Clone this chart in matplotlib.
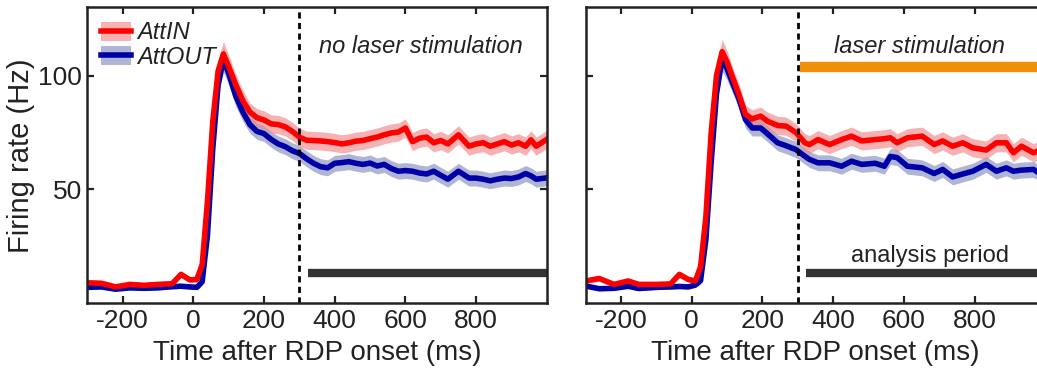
import matplotlib
matplotlib.use("Agg")
import matplotlib.pyplot as plt
from matplotlib.patches import Patch
from matplotlib.lines import Line2D

plt.rcParams['font.family'] = ['Liberation Sans', 'DejaVu Sans']
plt.rcParams['axes.unicode_minus'] = False

# ---- data (ms, Hz) ----
t_left = [-300, -260, -220, -180, -140, -100, -60, -35, -10, 10, 25, 40, 55, 70, 85, 100,
          120, 140, 160, 180, 200, 220, 240, 260, 280, 300, 320, 340, 360, 380, 400, 420,
          440, 460, 480, 500, 520, 540, 560, 580, 600, 620, 640, 660, 680, 700, 720, 750,
          780, 800, 820, 840, 860, 880, 900, 920, 940, 955, 970, 1000]
attin_left = [9.0, 8.8, 7.2, 8.3, 7.9, 8.3, 8.6, 12.7, 10.3, 10.5, 17, 45, 80, 102, 109.5, 104,
              96, 89, 84, 81.5, 80.5, 78.8, 78.5, 77.5, 75.5, 73, 71.6, 71.5, 71.3, 71, 70.6, 70,
              70.5, 71.2, 71.5, 72.3, 73, 74, 74.8, 75.2, 77, 71, 72.5, 73, 70.5, 71.5, 70, 74,
              69, 70, 70.5, 69, 70, 71, 69.5, 70.5, 69, 71.8, 69, 72]
attout_left = [7.0, 7.2, 6.2, 6.8, 6.6, 6.8, 7.3, 7.5, 7.2, 7.0, 9.5, 30, 68, 96, 107, 101,
               91, 84, 78.5, 75.5, 74.5, 72, 70, 68.8, 67, 65.8, 63.5, 61.5, 60, 59.5, 61.5, 61.8,
               62.2, 61.5, 61, 61.6, 60.3, 61, 59.2, 58, 58.3, 58, 57.2, 56.8, 58, 56.2, 54.5, 58,
               55, 55, 54.5, 53.8, 54.5, 55, 54.8, 55.5, 57, 56, 54.5, 55.1]
sem_in_left = [1.2, 1.2, 1.2, 1.2, 1.2, 1.2, 1.2, 1.5, 1.2, 1.2, 2, 3, 4, 5, 5.5, 5,
               4.5, 4.5, 4, 4, 4, 4, 4, 4, 4, 4, 4, 4, 4, 4, 4, 4,
               4, 4, 4, 4, 4, 4, 4, 4, 4, 4, 4, 4, 4, 4, 4, 4,
               4, 4, 4, 4, 4, 4, 4, 4, 4, 4, 4, 4]
sem_out_left = [1.0, 1.0, 1.0, 1.0, 1.0, 1.0, 1.0, 1.0, 1.0, 1.0, 1.5, 3, 4, 5, 5.5, 5,
                4.5, 4, 3.8, 3.5, 3.5, 3.5, 3.5, 3.5, 3.5, 3.5, 3.5, 3.5, 3.5, 3.5, 3.5, 3.5,
                3.5, 3.5, 3.5, 3.5, 3.5, 3.5, 3.5, 3.5, 3.5, 3.5, 3.5, 3.5, 3.5, 3.5, 3.5, 3.5,
                3.5, 3.5, 3.5, 3.5, 3.5, 3.5, 3.5, 3.5, 3.5, 3.5, 3.5, 3.5]

t_right = [-300, -262, -220, -180, -150, -100, -60, -35, -10, 10, 25, 40, 55, 70, 86, 100,
           115, 133, 152, 171, 195, 214, 243, 267, 295, 320, 333, 357, 390, 424, 452, 481,
           519, 545, 562, 581, 610, 652, 686, 710, 738, 767, 795, 833, 862, 890, 910, 933,
           967, 1000]
attin_right = [9.8, 10.9, 8.3, 9.8, 8.3, 8.3, 8.5, 12.7, 10.5, 9.8, 16, 38, 75, 100, 110.5, 106,
               99.5, 92, 83, 81, 82.2, 80, 78.1, 77.8, 75, 70.5, 69.7, 71.9, 69.7, 71.9, 73.4, 71.3,
               71.9, 72.3, 72.7, 70.5, 72.7, 73.4, 69.7, 71.3, 69, 70.5, 68.3, 67.3, 70.5, 70.5, 66.1, 69,
               66.1, 68.3]
attout_right = [7.6, 6.4, 6.6, 7.5, 6.5, 7.0, 7.2, 7.4, 7.2, 8.0, 10, 28, 62, 92, 107.5, 103,
                97, 90, 80.7, 77, 77, 74.5, 70.5, 69.2, 67.5, 64.6, 63.2, 61.7, 61.7, 60.2, 62.4, 61,
                61.5, 60.2, 64.5, 64, 60.2, 59.5, 57, 58.8, 55.5, 56.8, 58, 61, 58, 59.5, 58, 58.5,
                58.8, 55.5]
sem_in_right = [1.2, 1.2, 1.2, 1.2, 1.2, 1.2, 1.2, 1.5, 1.2, 1.2, 2, 3, 4, 5, 5.5, 5,
                4.5, 4.5, 4, 4, 4, 4, 4, 4, 4, 4, 4, 4, 4, 4, 4, 4,
                4, 4, 4, 4, 4, 4, 4, 4, 4, 4, 4, 4, 4, 4, 4, 4,
                4, 4]
sem_out_right = [1.0, 1.0, 1.0, 1.0, 1.0, 1.0, 1.0, 1.0, 1.0, 1.0, 1.5, 3, 4, 5, 5.5, 5,
                 4.5, 4, 3.8, 3.5, 3.5, 3.5, 3.5, 3.5, 3.5, 3.5, 3.5, 3.5, 3.5, 3.5, 3.5, 3.5,
                 3.5, 3.5, 3.5, 3.5, 3.5, 3.5, 3.5, 3.5, 3.5, 3.5, 3.5, 3.5, 3.5, 3.5, 3.5, 3.5,
                 3.5, 3.5]

x_ticks = [-200, 0, 200, 400, 600, 800]
y_ticks = [50, 100]
stim_onset = 300
analysis_period = (323, 1000)
laser_period = (305, 1000)

RED, RED_BAND = '#ff0000', '#f08080'
BLUE, BLUE_BAND = '#0000a8', '#7078b0'
INK = '#222222'


def draw_panel(ax, t, a_in, s_in, a_out, s_out):
    ax.fill_between(t, [m - s for m, s in zip(a_out, s_out)], [m + s for m, s in zip(a_out, s_out)],
                    color=BLUE_BAND, alpha=0.55, lw=0)
    ax.plot(t, a_out, color=BLUE, lw=4)
    ax.fill_between(t, [m - s for m, s in zip(a_in, s_in)], [m + s for m, s in zip(a_in, s_in)],
                    color=RED_BAND, alpha=0.6, lw=0)
    ax.plot(t, a_in, color=RED, lw=4)
    ax.axvline(stim_onset, color='black', lw=2, linestyle=(0, (2.2, 1.6)))
    ax.plot(analysis_period, [13.2, 13.2], color='#333333', lw=6, solid_capstyle='butt')
    ax.set_xlim(-300, 1000)
    ax.set_ylim(0, 130)
    ax.set_xticks(x_ticks)
    ax.set_yticks(y_ticks)
    ax.tick_params(direction='in', top=True, right=True, length=5, width=1.6,
                   labelsize=19, colors=INK, pad=4)
    for sp in ax.spines.values():
        sp.set_linewidth(1.8)
        sp.set_color(INK)
    ax.set_xlabel('Time after RDP onset (ms)', fontsize=20, color=INK, labelpad=5)


fig = plt.figure(figsize=(10.37, 3.73), dpi=100)
ax1 = fig.add_axes([0.0842, 0.1869, 0.4431, 0.7935])
ax2 = fig.add_axes([0.5648, 0.1869, 0.4431, 0.7935])

draw_panel(ax1, t_left, attin_left, sem_in_left, attout_left, sem_out_left)
draw_panel(ax2, t_right, attin_right, sem_in_right, attout_right, sem_out_right)

ax1.set_ylabel('Firing rate (Hz)', fontsize=21, color=INK, labelpad=2)
ax2.set_yticklabels([])

ax1.text(644, 113, 'no laser stimulation', fontsize=17, style='italic', color=INK,
         ha='center', va='center')
ax2.text(644, 113, 'laser stimulation', fontsize=17, style='italic', color=INK,
         ha='center', va='center')
ax2.plot(laser_period, [104, 104], color='#f0900a', lw=7.5, solid_capstyle='butt')
ax2.text(674, 20.7, 'analysis period', fontsize=17, color=INK, ha='center', va='center')

handles = [(Patch(facecolor=RED_BAND, alpha=0.6, lw=0), Line2D([], [], color=RED, lw=4)),
           (Patch(facecolor=BLUE_BAND, alpha=0.55, lw=0), Line2D([], [], color=BLUE, lw=4))]
leg = ax1.legend(handles, ['AttIN', 'AttOUT'], loc='upper left', frameon=False,
                 prop={'size': 17, 'style': 'italic'}, handlelength=1.25, handleheight=0.85,
                 handletextpad=0.25, labelspacing=0.05, borderaxespad=0.2,
                 bbox_to_anchor=(0.0, 1.0))
for txt in leg.get_texts():
    txt.set_color(INK)

fig.savefig('out.png', dpi=100)
